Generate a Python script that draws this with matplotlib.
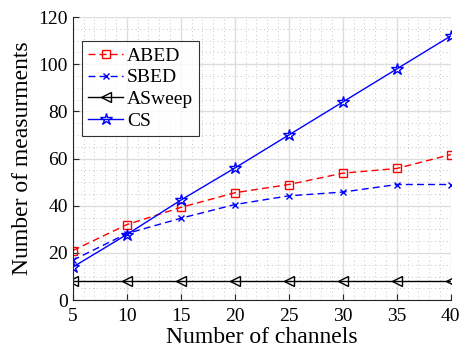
import matplotlib.pyplot as plt
from matplotlib.ticker import MultipleLocator

plt.rcParams['font.family'] = ['Liberation Serif', 'DejaVu Serif']

channels = [5, 10, 15, 20, 25, 30, 35, 40]
abed = [21, 32, 39.3, 45.5, 49, 53.8, 55.8, 61.7]
sbed = [16.9, 28.2, 34.7, 40.5, 44.2, 45.8, 49, 49]
asweep = [8, 8, 8, 8, 8, 8, 8, 8]
cs = [14, 27.8, 42.4, 56, 70, 84, 98, 112]

fig = plt.figure(figsize=(4.61, 3.62), dpi=100)
ax = fig.add_axes([0.158, 0.171, 0.82, 0.782])

ax.plot(channels, abed, color='#ff0000', linestyle=(0, (5, 3)), linewidth=1,
        marker='s', markersize=5.5, markerfacecolor='none', label='ABED')
ax.plot(channels, sbed, color='#0000ff', linestyle=(0, (5, 3)), linewidth=1,
        marker='x', markersize=5, label='SBED')
ax.plot(channels, asweep, color='black', linewidth=1,
        marker='<', markersize=7.5, markerfacecolor='none', label='ASweep')
ax.plot(channels, cs, color='#0000ff', linewidth=1,
        marker='*', markersize=9, markerfacecolor='none', label='CS')

ax.set_xlim(5, 40)
ax.set_ylim(0, 120)
ax.set_xticks(channels)
ax.set_yticks(range(0, 121, 20))
ax.xaxis.set_minor_locator(MultipleLocator(1))
ax.yaxis.set_minor_locator(MultipleLocator(5))
ax.grid(which='major', color='#dddddd', linewidth=1)
ax.grid(which='minor', color='#c8c8c8', linestyle=(0, (1, 3)), linewidth=0.7)
ax.set_axisbelow(True)

# MATLAB-like axes: box off, ticks pointing in
for s in ['top', 'right']:
    ax.spines[s].set_visible(False)
for s in ['left', 'bottom']:
    ax.spines[s].set_color('#262626')
ax.tick_params(which='major', direction='in', length=4, labelsize=14,
               colors='#262626', labelcolor='black')
ax.tick_params(which='minor', length=0)
ax.tick_params(axis='x', pad=6)

ax.set_xlabel('Number of channels', fontsize=17, labelpad=1)
ax.set_ylabel('Number of measurments', fontsize=17, labelpad=4)

leg = ax.legend(loc='upper left', bbox_to_anchor=(0.025, 0.915), fontsize=14,
                frameon=True, fancybox=False, edgecolor='black',
                handlelength=1.8, handletextpad=0.2, borderpad=0.3,
                labelspacing=0.22, borderaxespad=0)
leg.get_frame().set_linewidth(0.8)

fig.savefig('out.png', dpi=100)
